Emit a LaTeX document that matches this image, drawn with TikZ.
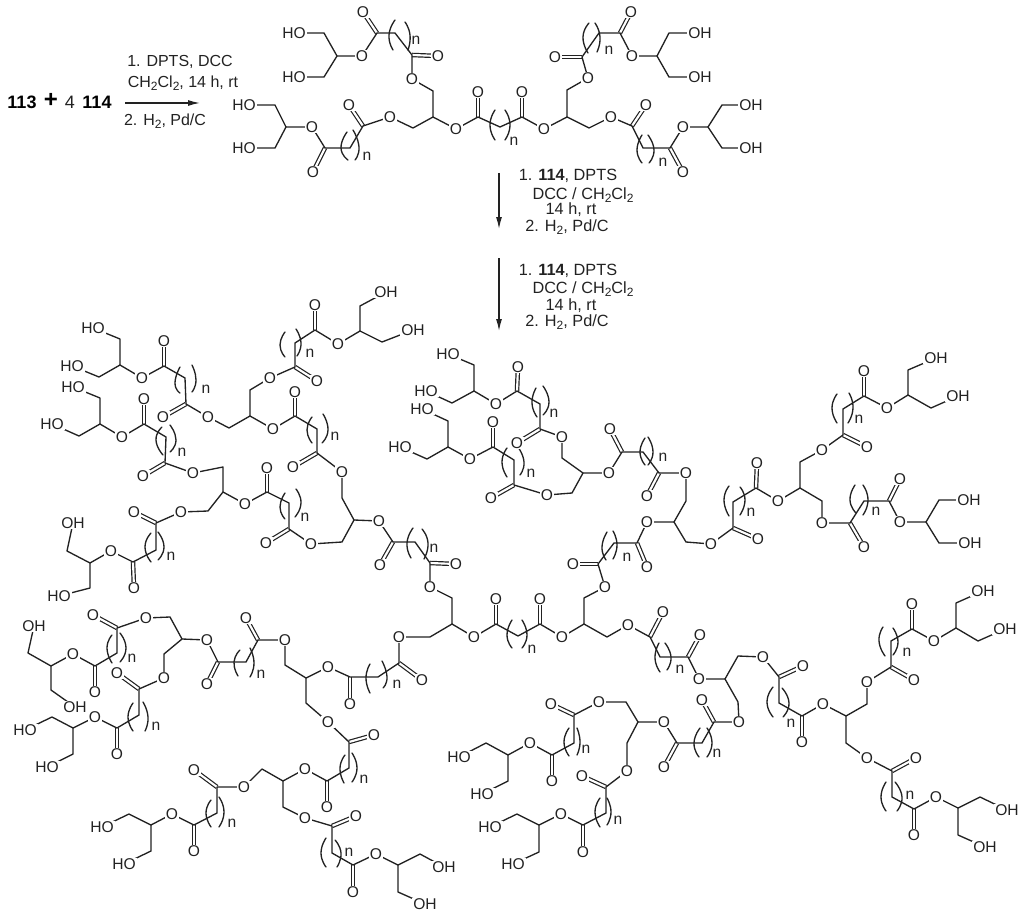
\documentclass[tikz,border=0pt]{standalone}
\usepackage{fontspec}
\setmainfont{Liberation Sans}
\usetikzlibrary{arrows.meta}
\definecolor{ink}{HTML}{222222}
\newcommand{\sbs}[1]{\raisebox{-0.35ex}{\fontsize{9}{9}\selectfont #1}}
\tikzset{
  bond/.style={draw=ink,line width=1pt,line join=round,line cap=round},
  dbond/.style={draw=ink,line width=0.9pt,double=white,double distance=1.6pt},
  atm/.style={fill=white,inner sep=0.7pt,text=ink,font=\fontsize{11.7}{13}\selectfont},
  idx/.style={inner sep=0pt,text=ink,font=\fontsize{11.7}{13}\selectfont},
  cond/.style={inner sep=0pt,text=ink,font=\fontsize{12.2}{14}\selectfont},
  big/.style={inner sep=0pt,text=black,font=\fontsize{13.5}{15}\selectfont\bfseries},
  rxn/.style={draw=ink,line width=1pt,-{Latex[length=9pt,width=4.5pt]}}
}
\begin{document}
\begin{tikzpicture}[x=0.75pt,y=-0.75pt]
\useasboundingbox (0,0) rectangle (1024,913);
% double bonds
\foreach \a/\b/\c/\d in {
377/33/363/12,412/55/438/56,478/117/478/92,522/117/522/92,582/57/555/57,620/33/631/12,632/126/646/105,670/148/683/172,363/126/349/105,325/148/313/172,
164/366/164/341,186/404/163/417,295/367/317/381,315/330/315/305,295/416/295/392,317/453/293/467,
144/424/144/399,165/463/143/476,156/523/134/512,133/562/134/588,267/492/267/468,289/529/266/543,393/542/380/565,430/563/456/564,496/624/496/599,540/624/540/599,598/564/573/564,637/543/647/567,733/528/758/539,756/488/757/463,843/435/867/447,864/396/864/371,850/523/864/547,889/501/900/479,
517/391/518/367,540/429/517/443,493/447/493/422,514/485/491/498,622/452/610/429,659/473/647/496,
399/663/422/680,350/677/350/704,258/640/246/618,218/662/207/684,117/628/93/615,95/666/95/692,139/689/117/673,117/728/117/754,349/742/374/735,327/781/327/807,217/787/194/770,194/825/194/851,332/826/356/816,353/865/353/892,
650/637/663/612,688/657/700/635,779/677/803/666,802/716/802/742,891/667/914/680,912/629/912/604,892/771/916/758,914/809/914/835,714/722/702/700,677/743/664/767,574/715/551/704,552/755/552/781,606/787/582/776,583/825/583/852}
{\draw[dbond] (\a,\b) -- (\c,\d);}
% top structure
\draw[bond] (294,33)--(324,33)--(337,56)--(324,77)--(294,77);
\draw[bond] (337,56)--(362,56)--(377,33)--(395,33)--(412,55)--(412,79)--(433,91)--(433,117)--(456,129)--(478,117)--(500,127)--(522,117)--(544,129)--(567,117)--(567,90)--(588,78)--(582,57)--(599,33)--(620,33)--(632,56)--(657,56)--(669,33)--(700,33);
\draw[bond] (657,56)--(669,77)--(700,77);
\draw[bond] (567,117)--(589,128)--(611,117)--(632,126)--(643,148)--(670,148)--(683,127)--(708,127)--(722,105)--(751,105);
\draw[bond] (708,127)--(722,148)--(751,148);
\draw[bond] (433,117)--(413,128)--(390,117)--(363,126)--(350,148)--(325,148)--(312,127)--(286,127)--(275,105)--(244,105);
\draw[bond] (286,127)--(275,148)--(244,148);
% big structure
\draw[bond] (93,328)--(120,339)--(120,365)--(99,377)--(72,366);
\draw[bond] (120,365)--(142,378)--(164,366)--(185,378)--(186,404)--(208,417)--(229,428)--(250,416)--(250,390)--(270,378)--(295,367)--(295,343)--(315,330)--(338,344)--(360,331)--(360,306)--(386,292);
\draw[bond] (360,331)--(382,342)--(413,330);
\draw[bond] (250,416)--(273,429)--(295,416)--(317,429)--(317,453)--(342,472)--(342,498)--(354,520);
\draw[bond] (73,387)--(100,398)--(100,424)--(79,436)--(52,424);
\draw[bond] (100,424)--(122,437)--(144,424)--(166,437)--(165,463)--(193,473)--(223,467)--(223,492)--(208,511)--(181,512)--(156,523)--(156,550)--(133,562)--(111,551)--(90,563)--(67,551)--(73,523);
\draw[bond] (90,563)--(90,588)--(59,596);
\draw[bond] (223,492)--(245,504)--(267,492)--(289,503)--(289,529)--(311,544)--(342,542)--(354,520)--(379,521)--(393,542)--(415,542)--(430,563)--(430,587)--(452,598)--(452,624)--(474,637)--(496,624)--(518,636)--(540,624)--(562,637)--(584,624)--(584,598)--(605,587)--(598,564)--(614,543)--(637,543)--(647,522)--(674,522)--(686,542)--(711,544)--(733,528)--(733,502)--(756,488)--(778,501)--(800,488)--(800,462)--(822,450)--(843,435)--(843,409)--(864,396)--(887,408)--(908,395)--(908,370)--(936,358);
\draw[bond] (908,395)--(931,408)--(958,396);
\draw[bond] (800,488)--(822,501)--(822,523)--(850,523)--(864,501)--(889,501)--(900,522)--(926,522)--(939,500)--(969,500);
\draw[bond] (926,522)--(939,543)--(970,543);
\draw[bond] (448,354)--(474,365)--(474,391)--(452,403)--(426,391);
\draw[bond] (474,391)--(496,404)--(517,391)--(540,404)--(540,429)--(562,437)--(562,458)--(583,473)--(572,493)--(547,495)--(514,485)--(514,460)--(493,447)--(470,459)--(448,447)--(448,421)--(422,409);
\draw[bond] (448,447)--(427,459)--(400,447);
\draw[bond] (583,473)--(609,473)--(622,452)--(643,452)--(659,473)--(686,473)--(686,501)--(674,522);
\draw[bond] (452,624)--(430,637)--(399,637)--(399,663)--(378,677)--(350,677)--(328,667)--(306,678)--(285,665)--(285,640)--(258,640)--(246,662)--(218,662)--(207,640)--(182,639)--(170,617)--(146,618)--(117,628)--(117,653)--(95,666)--(73,654)--(51,666)--(28,653)--(34,626);
\draw[bond] (51,666)--(51,690)--(75,707);
\draw[bond] (182,639)--(164,654)--(164,678)--(139,689)--(139,715)--(117,728)--(95,717)--(73,728)--(52,717)--(25,730);
\draw[bond] (73,728)--(73,754)--(47,767);
\draw[bond] (306,678)--(306,703)--(328,722)--(349,742)--(349,768)--(327,781)--(305,769)--(283,781)--(262,769)--(244,787)--(217,787)--(217,813)--(194,825)--(172,814)--(151,825)--(129,814)--(102,827);
\draw[bond] (151,825)--(151,851)--(124,864);
\draw[bond] (283,781)--(283,807)--(305,818)--(332,826)--(332,853)--(353,865)--(376,854)--(398,865)--(420,854)--(444,867);
\draw[bond] (398,865)--(398,892)--(425,904);
\draw[bond] (584,624)--(607,637)--(628,625)--(650,637)--(660,657)--(688,657)--(699,679)--(725,679)--(738,656)--(763,657)--(779,677)--(779,703)--(802,716)--(823,704)--(846,716)--(867,704)--(867,682)--(891,667)--(891,641)--(912,629)--(934,641)--(956,628)--(956,603)--(983,591);
\draw[bond] (956,628)--(978,641)--(1005,629);
\draw[bond] (846,716)--(846,743)--(867,758)--(892,771)--(892,797)--(914,809)--(936,797)--(958,808)--(980,797)--(1007,810);
\draw[bond] (958,808)--(958,835)--(985,847);
\draw[bond] (725,679)--(738,702)--(739,722)--(714,722)--(702,743)--(677,743)--(664,722)--(638,722)--(626,702)--(599,702)--(574,715)--(574,743)--(552,755)--(530,743)--(508,755)--(486,743)--(459,757);
\draw[bond] (508,755)--(508,781)--(482,794);
\draw[bond] (638,722)--(627,743)--(627,771)--(606,787)--(606,813)--(583,825)--(561,814)--(539,825)--(517,814)--(490,827);
\draw[bond] (539,825)--(539,852)--(513,864);
% repeat-unit parentheses
\foreach \a/\b/\c/\d/\e/\f in {
395/20/389/35/393/50,405/22/410/35/408/50,495/110/490/125/495/140,505/110/510/125/505/140,589/23/583/37/588/53,595/23/600/37/597/52,642/135/637/150/642/163,648/135/654/150/649/163,347/132/341/148/348/160,353/130/359/147/355/160,
180/367/175/383/180/393,192/365/196/380/192/392,285/332/280/345/285/357,296/329/301/343/297/356,162/427/156/440/163/455,170/425/176/440/170/452,151/533/145/547/151/562,158/532/164/547/158/560,285/493/280/507/285/519,296/489/301/503/295/517,312/417/307/430/312/443,323/414/328/430/322/443,413/528/407/543/411/558,422/529/428/543/424/559,512/620/507/635/512/648,522/620/527/635/522/648,607/532/602/547/606/560,613/531/617/545/613/559,370/664/366/678/370/693,382/661/387/677/383/688,240/650/234/662/238/676,250/648/254/663/250/677,112/635/107/648/112/663,120/633/126/648/120/662,133/703/128/717/133/731,143/702/148/717/145/731,211/800/206/813/211/827,219/797/224/812/219/827,345/755/340/768/344/783,352/753/357/768/352/782,326/838/321/853/326/867,335/840/341/853/337/867,
536/388/532/403/537/417,543/386/549/402/543/415,507/448/502/462/507/477,518/447/524/462/520/475,645/438/640/452/645/465,648/437/653/452/648/465,837/394/832/408/837/423,849/393/853/408/848/423,729/486/724/500/729/516,740/487/745/500/740/515,855/485/850/500/856/513,863/485/868/500/863/515,
659/643/655/658/660/672,665/643/671/657/667/670,773/687/767/702/773/717,782/688/789/703/783/717,883/627/879/641/885/656,893/628/898/642/893/655,700/728/694/743/699/757,707/728/712/743/707/757,886/782/881/797/886/811,895/782/902/797/897/811,569/728/564/742/569/756,577/728/580/742/577/755,600/798/595/812/600/827,607/798/611/812/607/825}
{\draw[bond] plot[smooth,tension=1] coordinates {(\a,\b)(\c,\d)(\e,\f)};}
% atoms
\foreach \x/\y in {
362/56,363/12,412/79,438/56,456/129,478/92,522/92,544/129,588/78,555/57,631/12,632/56,611/117,646/105,683/172,683/127,390/117,349/105,313/172,312/127,
142/378,164/341,163/417,208/417,270/378,317/381,315/305,338/344,295/392,273/429,293/467,342/472,
122/437,144/399,143/476,193/473,181/512,134/512,134/588,111/551,245/504,267/468,266/543,311/544,379/521,380/565,456/564,430/587,474/637,496/599,540/599,562/637,605/587,573/564,647/522,647/567,711/544,758/539,757/463,778/501,822/450,867/447,864/371,887/408,822/523,864/547,900/479,900/522,
496/404,518/367,517/443,562/437,547/495,470/459,493/422,491/498,609/473,610/429,647/496,686/473,
399/637,422/680,350/704,328/667,285/640,246/618,207/684,207/640,146/618,93/615,95/692,73/654,164/678,117/673,117/754,95/717,328/722,374/735,327/807,305/769,244/787,194/770,194/851,172/814,305/818,356/816,353/892,376/854,
628/625,663/612,700/635,699/679,763/657,803/666,802/742,823/704,867/682,914/680,912/604,934/641,867/758,916/758,914/835,936/797,739/722,702/700,664/767,664/722,599/702,551/704,552/781,530/743,627/771,582/776,583/852,561/814}
{\node[atm] (o\x-\y) at (\x,\y) {O};}
\foreach \x/\y in {294/33,294/77,244/105,244/148,93/328,72/366,73/387,52/424,59/596,25/730,47/767,102/827,124/864,448/354,426/391,422/409,400/447,459/757,482/794,490/827,513/864}
{\node[atm] (ho\x-\y) at (\x,\y) {HO};}
\foreach \x/\y in {700/33,700/77,751/105,751/148,386/292,413/330,73/523,34/626,75/707,444/867,425/904,936/358,958/396,969/500,970/543,983/591,1005/629,1007/810,985/847}
{\node[atm] (oh\x-\y) at (\x,\y) {OH};}
\foreach \x/\y in {416/40,514/141,609/50,663/162,367/156,206/389,310/353,182/452,171/556,305/517,335/436,434/548,532/649,627/557,397/684,261/674,132/658,156/726,232/823,364/779,349/852,554/413,531/473,663/457,859/419,751/512,876/511,680/669,791/723,907/652,717/753,910/795,586/749,618/820}
{\node[idx] (n\x-\y) at (\x,\y) {n};}
% reaction scheme
\node[big] (r113) at (22,102) {113};
\node[big,font=\fontsize{18}{18}\selectfont\bfseries] (rplus) at (51,100) {+};
\node[inner sep=0pt,text=ink,font=\fontsize{13.5}{15}\selectfont] (rfour) at (70,102) {4};
\node[big] (r114) at (97,102) {114};
\node[cond,font=\fontsize{12}{14}\selectfont] (c1) at (180,62) {1. DPTS, DCC};
\node[cond,font=\fontsize{12}{14}\selectfont] (c2) at (183,83) {CH\sbs{2}Cl\sbs{2}, 14 h, rt};
\node[cond,font=\fontsize{12}{14}\selectfont] (c3) at (165,121) {2. H\sbs{2}, Pd/C};
\coordinate (a1s) at (125,103); \coordinate (a1e) at (200,103);
\draw[rxn] (a1s) -- (a1e);
\coordinate (a2s) at (499,173); \coordinate (a2e) at (499,229);
\draw[rxn] (a2s) -- (a2e);
\node[cond] (d1) at (568,176) {1. \textbf{114}, DPTS};
\node[cond] (d2) at (583,195) {DCC / CH\sbs{2}Cl\sbs{2}};
\node[cond] (d3) at (571,210) {14 h, rt};
\node[cond] (d4) at (567,227) {2. H\sbs{2}, Pd/C};
\coordinate (a3s) at (499,258); \coordinate (a3e) at (499,331);
\draw[rxn] (a3s) -- (a3e);
\node[cond] (e1) at (568,271) {1. \textbf{114}, DPTS};
\node[cond] (e2) at (583,289) {DCC / CH\sbs{2}Cl\sbs{2}};
\node[cond] (e3) at (571,306) {14 h, rt};
\node[cond] (e4) at (567,322) {2. H\sbs{2}, Pd/C};
\end{tikzpicture}
\end{document}
